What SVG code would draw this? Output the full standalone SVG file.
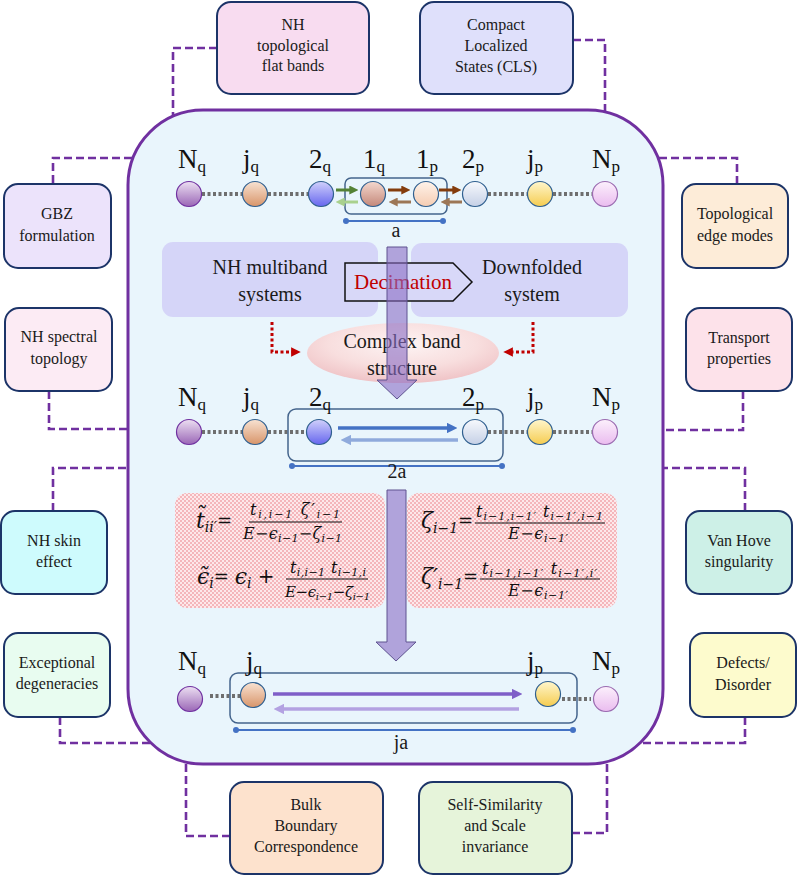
<svg xmlns="http://www.w3.org/2000/svg" width="797" height="876" viewBox="0 0 797 876">
<style>
.box{stroke:#1c3468;stroke-width:2}
.bt{font-family:"Liberation Serif","Times New Roman",serif;font-size:16px;fill:#1a1a1a;text-anchor:middle}
.conn{fill:none;stroke:#7030a0;stroke-width:2.6;stroke-dasharray:8 4}
.lbl{font-family:"Liberation Serif","Times New Roman",serif;font-size:27px;fill:#111}
.sb{font-size:17px}
.mt{font-family:"Liberation Serif","Times New Roman",serif;font-size:20px;fill:#1a1a1a;text-anchor:middle}
.dot{stroke:#6e6e6e;stroke-width:4;stroke-dasharray:3 2.5}
.cell{stroke:#44648c;stroke-width:1.5;fill:none}
.bar{stroke:#4472c4;stroke-width:2}
.bard{fill:#4472c4}
.fm{font-family:"DejaVu Serif","Liberation Serif",serif;font-style:italic;fill:#111}
.rm{font-style:normal}
.fl{stroke:#111;stroke-width:1}
.bigarrow{fill:#8b6cc4;fill-opacity:0.6;stroke:#5e5290;stroke-width:1}
</style>
<defs>
<linearGradient id="gNq" x1="0" y1="0" x2="0" y2="1"><stop offset="0" stop-color="#ecdff2"/><stop offset="1" stop-color="#9a66b6"/></linearGradient>
<linearGradient id="gjq" x1="0" y1="0" x2="0" y2="1"><stop offset="0" stop-color="#f8e2d2"/><stop offset="1" stop-color="#d8956a"/></linearGradient>
<linearGradient id="g2q" x1="0" y1="0" x2="0" y2="1"><stop offset="0" stop-color="#d0d0fb"/><stop offset="1" stop-color="#6666ee"/></linearGradient>
<linearGradient id="g1q" x1="0" y1="0" x2="0" y2="1"><stop offset="0" stop-color="#f4d8ce"/><stop offset="1" stop-color="#c4887a"/></linearGradient>
<linearGradient id="g1p" x1="0" y1="0" x2="0" y2="1"><stop offset="0" stop-color="#fff3ea"/><stop offset="1" stop-color="#f5ccb2"/></linearGradient>
<linearGradient id="g2p" x1="0" y1="0" x2="0" y2="1"><stop offset="0" stop-color="#f7f9fd"/><stop offset="1" stop-color="#c5d0e6"/></linearGradient>
<linearGradient id="gjp" x1="0" y1="0" x2="0" y2="1"><stop offset="0" stop-color="#fff6cc"/><stop offset="1" stop-color="#f5cc50"/></linearGradient>
<linearGradient id="gNp" x1="0" y1="0" x2="0" y2="1"><stop offset="0" stop-color="#fcf0fc"/><stop offset="1" stop-color="#eabcef"/></linearGradient>
<radialGradient id="gEll" cx="0.5" cy="0.35" r="0.65"><stop offset="0" stop-color="#fdf4f4"/><stop offset="0.6" stop-color="#f8dede"/><stop offset="1" stop-color="#efc3c6"/></radialGradient>
<pattern id="chk" width="4" height="4" patternUnits="userSpaceOnUse"><rect width="4" height="4" fill="#fde8ea"/><rect width="2" height="2" fill="#f4b6bb"/><rect x="2" y="2" width="2" height="2" fill="#f4b6bb"/></pattern>
<marker id="aG" viewBox="0 0 10 10" refX="3" refY="5" markerWidth="3" markerHeight="3" orient="auto"><path d="M0,0 L10,5 L0,10 z" fill="#548235"/></marker>
<marker id="aLG" viewBox="0 0 10 10" refX="3" refY="5" markerWidth="3" markerHeight="3" orient="auto"><path d="M0,0 L10,5 L0,10 z" fill="#a9d18e"/></marker>
<marker id="aB" viewBox="0 0 10 10" refX="3" refY="5" markerWidth="3" markerHeight="3" orient="auto"><path d="M0,0 L10,5 L0,10 z" fill="#843c0c"/></marker>
<marker id="aLB" viewBox="0 0 10 10" refX="3" refY="5" markerWidth="3" markerHeight="3" orient="auto"><path d="M0,0 L10,5 L0,10 z" fill="#9c7656"/></marker>
<marker id="aBl" viewBox="0 0 10 10" refX="3" refY="5" markerWidth="3" markerHeight="3" orient="auto"><path d="M0,0 L10,5 L0,10 z" fill="#4472c4"/></marker>
<marker id="aLBl" viewBox="0 0 10 10" refX="3" refY="5" markerWidth="3" markerHeight="3" orient="auto"><path d="M0,0 L10,5 L0,10 z" fill="#8faadc"/></marker>
<marker id="aP" viewBox="0 0 10 10" refX="3" refY="5" markerWidth="3" markerHeight="3" orient="auto"><path d="M0,0 L10,5 L0,10 z" fill="#7f5fc8"/></marker>
<marker id="aLP" viewBox="0 0 10 10" refX="3" refY="5" markerWidth="3" markerHeight="3" orient="auto"><path d="M0,0 L10,5 L0,10 z" fill="#b3a2e2"/></marker>
<marker id="aR" viewBox="0 0 10 10" refX="3" refY="5" markerWidth="3.2" markerHeight="3.2" orient="auto"><path d="M0,0 L10,5 L0,10 z" fill="#c00000"/></marker>
</defs>

<!-- main panel -->
<g id="main-panel">
<rect x="128" y="110" width="535" height="654" rx="75" fill="#e9f5fc" stroke="#7030a0" stroke-width="3"/>
</g>

<!-- connectors -->
<g id="connectors">
<path class="conn" d="M217,48 H173 V117"/>
<path class="conn" d="M573,40 H605 V113"/>
<path class="conn" d="M53,183 V158 H133"/>
<path class="conn" d="M737,184 V158 H658"/>
<path class="conn" d="M49,391 V429 H128"/>
<path class="conn" d="M743,391 V430 H663"/>
<path class="conn" d="M53,511 V468 H128"/>
<path class="conn" d="M745,511 V468 H663"/>
<path class="conn" d="M60,717 V743 H152"/>
<path class="conn" d="M745,717 V743 H640"/>
<path class="conn" d="M230,836 H186 V762"/>
<path class="conn" d="M572,833 H607 V762"/>
</g>

<!-- outer nodes -->
<g id="n-flatbands"><rect class="box" x="217" y="2" width="152" height="92" rx="14" fill="#f8dcf0"/>
<text class="bt" x="293" y="30">NH</text><text class="bt" x="293" y="51">topological</text><text class="bt" x="293" y="71">flat bands</text></g>
<g id="n-cls"><rect class="box" x="420" y="2" width="153" height="92" rx="14" fill="#dfe0fb"/>
<text class="bt" x="496" y="30">Compact</text><text class="bt" x="496" y="51">Localized</text><text class="bt" x="496" y="72">States (CLS)</text></g>
<g id="n-gbz"><rect class="box" x="4" y="184" width="107" height="84" rx="14" fill="#ece3fb"/>
<text class="bt" x="57" y="219">GBZ</text><text class="bt" x="57" y="241">formulation</text></g>
<g id="n-spectral"><rect class="box" x="5" y="308" width="107" height="83" rx="14" fill="#fcebf4"/>
<text class="bt" x="59" y="342">NH spectral</text><text class="bt" x="59" y="364">topology</text></g>
<g id="n-edge"><rect class="box" x="682" y="184" width="106" height="84" rx="14" fill="#fdecd8"/>
<text class="bt" x="735" y="219">Topological</text><text class="bt" x="735" y="241">edge modes</text></g>
<g id="n-transport"><rect class="box" x="686" y="308" width="106" height="83" rx="14" fill="#fde2ea"/>
<text class="bt" x="739" y="343">Transport</text><text class="bt" x="739" y="364">properties</text></g>
<g id="n-skin"><rect class="box" x="1" y="511" width="106" height="83" rx="14" fill="#cefbfd"/>
<text class="bt" x="54" y="546">NH skin</text><text class="bt" x="54" y="567">effect</text></g>
<g id="n-vanhove"><rect class="box" x="686" y="511" width="106" height="83" rx="14" fill="#cdf0e7"/>
<text class="bt" x="739" y="546">Van Hove</text><text class="bt" x="739" y="567">singularity</text></g>
<g id="n-exceptional"><rect class="box" x="4" y="633" width="106" height="84" rx="14" fill="#e8fcf0"/>
<text class="bt" x="57" y="668">Exceptional</text><text class="bt" x="57" y="689">degeneracies</text></g>
<g id="n-defects"><rect class="box" x="690" y="633" width="106" height="84" rx="14" fill="#fdfbcd"/>
<text class="bt" x="743" y="668">Defects/</text><text class="bt" x="743" y="690">Disorder</text></g>
<g id="n-bbc"><rect class="box" x="230" y="782" width="153" height="92" rx="14" fill="#fde2cd"/>
<text class="bt" x="306" y="810">Bulk</text><text class="bt" x="306" y="831">Boundary</text><text class="bt" x="306" y="852">Correspondence</text></g>
<g id="n-selfsim"><rect class="box" x="419" y="782" width="153" height="92" rx="14" fill="#e6f4da"/>
<text class="bt" x="495" y="810">Self-Similarity</text><text class="bt" x="495" y="831">and Scale</text><text class="bt" x="495" y="852">invariance</text></g>

<!-- Row 1 chain -->
<g id="chain-1">
<line class="dot" x1="202" y1="194" x2="243" y2="194"/>
<line class="dot" x1="268" y1="194" x2="309" y2="194"/>
<line class="dot" x1="488" y1="194" x2="528" y2="194"/>
<line class="dot" x1="553" y1="194" x2="593" y2="194"/>
<rect class="cell" x="345" y="178" width="102" height="36" rx="6"/>
<circle cx="189" cy="194" r="12.5" fill="url(#gNq)" stroke="#7030a0" stroke-width="1.2"/>
<circle cx="255" cy="194" r="12.5" fill="url(#gjq)" stroke="#2f5f8f" stroke-width="1.2"/>
<circle cx="321" cy="194" r="12.5" fill="url(#g2q)" stroke="#2f5f8f" stroke-width="1.2"/>
<circle cx="373" cy="194" r="12.5" fill="url(#g1q)" stroke="#2f5f8f" stroke-width="1.2"/>
<circle cx="426" cy="194" r="12.5" fill="url(#g1p)" stroke="#2f5f8f" stroke-width="1.2"/>
<circle cx="475" cy="194" r="12.5" fill="url(#g2p)" stroke="#2f5f8f" stroke-width="1.2"/>
<circle cx="540" cy="194" r="12.5" fill="url(#gjp)" stroke="#2f5f8f" stroke-width="1.2"/>
<circle cx="605" cy="194" r="12.5" fill="url(#gNp)" stroke="#9a6ab0" stroke-width="1.2"/>
<line x1="336" y1="190" x2="352" y2="190" stroke="#548235" stroke-width="3" marker-end="url(#aG)"/>
<line x1="358" y1="202" x2="342" y2="202" stroke="#a9d18e" stroke-width="3" marker-end="url(#aLG)"/>
<line x1="388" y1="190" x2="404" y2="190" stroke="#843c0c" stroke-width="3" marker-end="url(#aB)"/>
<line x1="411" y1="202" x2="395" y2="202" stroke="#9c7656" stroke-width="3" marker-end="url(#aLB)"/>
<line x1="439" y1="190" x2="455" y2="190" stroke="#843c0c" stroke-width="3" marker-end="url(#aB)"/>
<line x1="462" y1="202" x2="447" y2="202" stroke="#9c7656" stroke-width="3" marker-end="url(#aLB)"/>
<line class="bar" x1="346" y1="221" x2="443" y2="221"/>
<circle class="bard" cx="346" cy="221" r="3"/><circle class="bard" cx="443" cy="221" r="3"/>
<text class="mt" x="396" y="237">a</text>
<text class="lbl" x="178" y="168">N<tspan class="sb" dy="4">q</tspan></text>
<text class="lbl" x="243" y="168">j<tspan class="sb" dy="4">q</tspan></text>
<text class="lbl" x="309" y="168">2<tspan class="sb" dy="4">q</tspan></text>
<text class="lbl" x="363" y="168">1<tspan class="sb" dy="4">q</tspan></text>
<text class="lbl" x="416" y="168">1<tspan class="sb" dy="4">p</tspan></text>
<text class="lbl" x="462" y="168">2<tspan class="sb" dy="4">p</tspan></text>
<text class="lbl" x="527" y="168">j<tspan class="sb" dy="4">p</tspan></text>
<text class="lbl" x="592" y="168">N<tspan class="sb" dy="4">p</tspan></text>
</g>

<!-- Decimation block -->
<g id="n-multiband"><rect x="162" y="242" width="216" height="75" rx="11" fill="#d5d5f8"/>
<text class="mt" x="270" y="274">NH multiband</text><text class="mt" x="270" y="301">systems</text></g>
<g id="n-downfolded"><rect x="411" y="243" width="217" height="74" rx="11" fill="#d5d5f8"/>
<text class="mt" x="532" y="274">Downfolded</text><text class="mt" x="532" y="301">system</text></g>
<g id="n-decimation"><polygon points="345,263 453,263 472,282 453,301 345,301" fill="#d8d8f8" stroke="#111" stroke-width="1.5"/>
<text x="403" y="289" font-family="Liberation Serif,Times New Roman,serif" font-size="21" fill="#c00000" text-anchor="middle">Decimation</text></g>
<g id="n-complexband"><ellipse cx="403" cy="353" rx="96" ry="30" fill="url(#gEll)"/>
<text class="mt" x="402" y="348">Complex band</text><text class="mt" x="402" y="375">structure</text></g>
<g id="red-arrows">
<path d="M272,322 V352 H294" fill="none" stroke="#c00000" stroke-width="3" stroke-dasharray="3 2.5" marker-end="url(#aR)"/>
<path d="M533,322 V352 H510" fill="none" stroke="#c00000" stroke-width="3" stroke-dasharray="3 2.5" marker-end="url(#aR)"/>
</g>
<g id="arrow-down-1"><path class="bigarrow" d="M387,247 H407 V380 H417 L397,399 L377,380 H387 Z"/></g>

<!-- Row 2 chain -->
<g id="chain-2">
<line class="dot" x1="202" y1="432" x2="243" y2="432"/>
<line class="dot" x1="268" y1="432" x2="307" y2="432"/>
<line class="dot" x1="488" y1="432" x2="528" y2="432"/>
<line class="dot" x1="553" y1="432" x2="593" y2="432"/>
<rect class="cell" x="288" y="409" width="215" height="52" rx="8"/>
<circle cx="189" cy="432" r="12.5" fill="url(#gNq)" stroke="#7030a0" stroke-width="1.2"/>
<circle cx="255" cy="432" r="12.5" fill="url(#gjq)" stroke="#2f5f8f" stroke-width="1.2"/>
<circle cx="319" cy="432" r="12.5" fill="url(#g2q)" stroke="#2f5f8f" stroke-width="1.2"/>
<circle cx="475" cy="432" r="12.5" fill="url(#g2p)" stroke="#2f5f8f" stroke-width="1.2"/>
<circle cx="540" cy="432" r="12.5" fill="url(#gjp)" stroke="#2f5f8f" stroke-width="1.2"/>
<circle cx="605" cy="432" r="12.5" fill="url(#gNp)" stroke="#9a6ab0" stroke-width="1.2"/>
<line x1="338" y1="428" x2="450" y2="428" stroke="#4472c4" stroke-width="3.5" marker-end="url(#aBl)"/>
<line x1="458" y1="440" x2="348" y2="440" stroke="#8faadc" stroke-width="3.5" marker-end="url(#aLBl)"/>
<line class="bar" x1="292" y1="466" x2="502" y2="466"/>
<circle class="bard" cx="292" cy="466" r="3"/><circle class="bard" cx="502" cy="466" r="3"/>
<text class="mt" x="397" y="478">2a</text>
<text class="lbl" x="178" y="406">N<tspan class="sb" dy="4">q</tspan></text>
<text class="lbl" x="243" y="406">j<tspan class="sb" dy="4">q</tspan></text>
<text class="lbl" x="309" y="406">2<tspan class="sb" dy="4">q</tspan></text>
<text class="lbl" x="462" y="406">2<tspan class="sb" dy="4">p</tspan></text>
<text class="lbl" x="527" y="406">j<tspan class="sb" dy="4">p</tspan></text>
<text class="lbl" x="592" y="406">N<tspan class="sb" dy="4">p</tspan></text>
</g>

<!-- Formula boxes -->
<g id="formula-left">
<rect x="175" y="493" width="210" height="115" rx="12" fill="url(#chk)"/>
<text class="fm" x="196" y="528" font-size="22">t&#x303;<tspan font-size="14" dy="4">ii′</tspan><tspan class="rm" font-size="18" dy="-5">=</tspan></text>
<text class="fm" x="250" y="515" font-size="16" textLength="90" lengthAdjust="spacing">t<tspan font-size="11" dy="3">i,i−1</tspan><tspan dy="-3"> ζ′</tspan><tspan font-size="11" dy="3">i−1</tspan></text>
<line class="fl" x1="249" y1="522" x2="342" y2="522"/>
<text class="fm" x="243" y="539" font-size="16" textLength="99" lengthAdjust="spacing">E−ϵ<tspan font-size="11" dy="3">i−1</tspan><tspan dy="-3">−ζ</tspan><tspan font-size="11" dy="3">i−1</tspan></text>
<text class="fm" x="197" y="584" font-size="22">ϵ&#x303;<tspan font-size="14" dy="4">i</tspan><tspan class="rm" font-size="18" dy="-5">= </tspan><tspan dy="1">ϵ</tspan><tspan font-size="14" dy="4">i</tspan><tspan class="rm" font-size="20" dy="-5"> +</tspan></text>
<text class="fm" x="290" y="573" font-size="16" textLength="76" lengthAdjust="spacing">t<tspan font-size="11" dy="3">i,i−1</tspan><tspan dy="-3"> t</tspan><tspan font-size="11" dy="3">i−1,i</tspan></text>
<line class="fl" x1="286" y1="579" x2="368" y2="579"/>
<text class="fm" x="285" y="597" font-size="15" textLength="85" lengthAdjust="spacing">E−ϵ<tspan font-size="10" dy="3">i−1</tspan><tspan dy="-3">−ζ</tspan><tspan font-size="10" dy="3">i−1</tspan></text>
</g>
<g id="formula-right">
<rect x="407" y="493" width="210" height="115" rx="12" fill="url(#chk)"/>
<text class="fm" x="421" y="528" font-size="22">ζ<tspan font-size="14" dy="5">i−1</tspan><tspan class="rm" font-size="18" dy="-6">=</tspan></text>
<text class="fm" x="476" y="517" font-size="16" textLength="127" lengthAdjust="spacing">t<tspan font-size="11" dy="3">i−1,i−1′</tspan><tspan dy="-3"> t</tspan><tspan font-size="11" dy="3">i−1′,i−1</tspan></text>
<line class="fl" x1="475" y1="523" x2="605" y2="523"/>
<text class="fm" x="508" y="539" font-size="16" textLength="60" lengthAdjust="spacing">E−ϵ<tspan font-size="11" dy="3">i−1′</tspan></text>
<text class="fm" x="421" y="584" font-size="22">ζ′<tspan font-size="14" dy="5">i−1</tspan><tspan class="rm" font-size="18" dy="-6">=</tspan></text>
<text class="fm" x="482" y="574" font-size="16" textLength="115" lengthAdjust="spacing">t<tspan font-size="11" dy="3">i−1,i−1′</tspan><tspan dy="-3"> t</tspan><tspan font-size="11" dy="3">i−1′,i′</tspan></text>
<line class="fl" x1="480" y1="579" x2="600" y2="579"/>
<text class="fm" x="508" y="596" font-size="16" textLength="60" lengthAdjust="spacing">E−ϵ<tspan font-size="11" dy="3">i−1′</tspan></text>
</g>
<g id="arrow-down-2"><path class="bigarrow" d="M387,490 H406 V642 H416 L396,661 L376,642 H387 Z"/></g>

<!-- Row 3 chain -->
<g id="chain-3">
<line class="dot" x1="210" y1="696" x2="247" y2="696"/>
<line class="dot" x1="562" y1="699" x2="591" y2="699"/>
<rect class="cell" x="230" y="673" width="347" height="50" rx="8"/>
<circle cx="190" cy="699" r="12.5" fill="url(#gNq)" stroke="#7030a0" stroke-width="1.2"/>
<circle cx="253" cy="695" r="12.5" fill="url(#gjq)" stroke="#2f5f8f" stroke-width="1.2"/>
<circle cx="548" cy="694" r="12.5" fill="url(#gjp)" stroke="#2f5f8f" stroke-width="1.2"/>
<circle cx="606" cy="699" r="12.5" fill="url(#gNp)" stroke="#9a6ab0" stroke-width="1.2"/>
<line x1="273" y1="694" x2="515" y2="694" stroke="#7f5fc8" stroke-width="3.5" marker-end="url(#aP)"/>
<line x1="519" y1="709" x2="281" y2="709" stroke="#b3a2e2" stroke-width="3.5" marker-end="url(#aLP)"/>
<line class="bar" x1="236" y1="730" x2="573" y2="730"/>
<circle class="bard" cx="236" cy="730" r="3"/><circle class="bard" cx="573" cy="730" r="3"/>
<text class="mt" x="401" y="749">ja</text>
<text class="lbl" x="178" y="670">N<tspan class="sb" dy="4">q</tspan></text>
<text class="lbl" x="246" y="670">j<tspan class="sb" dy="4">q</tspan></text>
<text class="lbl" x="527" y="670">j<tspan class="sb" dy="4">p</tspan></text>
<text class="lbl" x="592" y="670">N<tspan class="sb" dy="4">p</tspan></text>
</g>
</svg>
